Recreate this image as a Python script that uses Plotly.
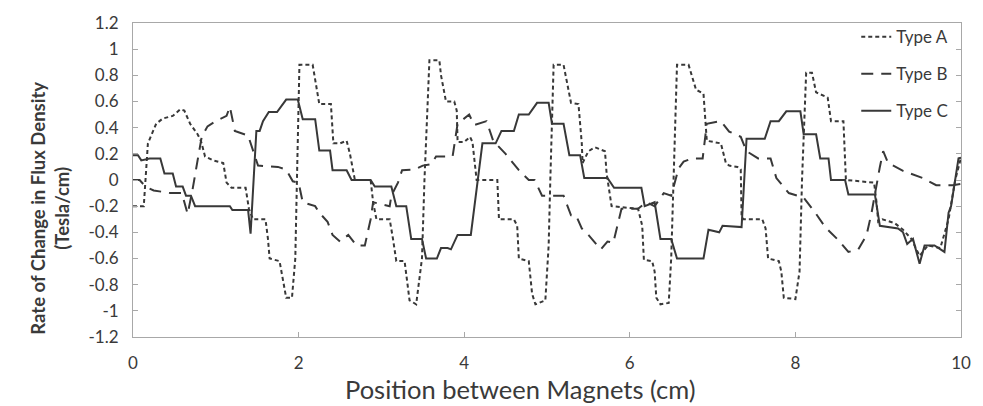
import plotly.graph_objects as go

# ---------------- data ----------------
xA = [0.0, 0.13, 0.18, 0.28, 0.36, 0.48, 0.57, 0.62, 0.69, 0.78, 0.82, 0.87, 0.97, 1.09, 1.13, 1.19, 1.36, 1.40,
      1.45, 1.60, 1.63, 1.65, 1.77, 1.81, 1.85, 1.92, 1.96, 1.98, 2.01, 2.17, 2.25, 2.39, 2.42, 2.50, 2.58, 2.62,
      2.64, 2.68, 2.87, 2.90, 2.94, 3.10, 3.14, 3.18, 3.28, 3.34, 3.42, 3.49, 3.52, 3.58, 3.70, 3.72, 3.78, 3.88,
      3.91, 3.92, 4.00, 4.07, 4.10, 4.15, 4.40, 4.42, 4.60, 4.64, 4.66, 4.78, 4.82, 4.86, 4.98, 5.02, 5.04, 5.08,
      5.20, 5.25, 5.29, 5.38, 5.42, 5.43, 5.50, 5.58, 5.70, 5.72, 5.78, 6.10, 6.15, 6.17, 6.27, 6.30, 6.32, 6.37,
      6.47, 6.50, 6.53, 6.57, 6.71, 6.75, 6.80, 6.89, 6.91, 6.93, 7.10, 7.16, 7.20, 7.30, 7.34, 7.35, 7.37, 7.60,
      7.64, 7.67, 7.80, 7.83, 7.86, 8.00, 8.05, 8.08, 8.13, 8.20, 8.25, 8.39, 8.43, 8.58, 8.61, 8.95, 8.98, 9.00,
      9.05, 9.20, 9.30, 9.40, 9.50, 9.60, 9.75, 9.85, 9.93, 10.0]
yA = [-0.20, -0.20, 0.28, 0.43, 0.47, 0.49, 0.54, 0.53, 0.43, 0.35, 0.30, 0.18, 0.15, 0.13, -0.02, -0.06, -0.06, -0.22,
      -0.30, -0.30, -0.45, -0.60, -0.62, -0.77, -0.90, -0.90, -0.60, 0.00, 0.88, 0.88, 0.58, 0.58, 0.28, 0.28, 0.30, 0.20,
      0.13, 0.00, 0.00, -0.17, -0.30, -0.30, -0.45, -0.62, -0.62, -0.92, -0.95, -0.60, 0.00, 0.915, 0.915, 0.80, 0.60, 0.60,
      0.53, 0.29, 0.29, 0.33, 0.29, 0.00, 0.00, -0.30, -0.30, -0.35, -0.60, -0.62, -0.87, -0.95, -0.92, -0.50, 0.00, 0.88,
      0.88, 0.73, 0.59, 0.58, 0.28, 0.13, 0.22, 0.25, 0.22, 0.05, -0.20, -0.22, -0.35, -0.61, -0.62, -0.70, -0.90, -0.95,
      -0.94, -0.60, 0.00, 0.88, 0.88, 0.80, 0.69, 0.66, 0.45, 0.30, 0.28, 0.13, 0.11, 0.10, 0.08, -0.27, -0.30, -0.30,
      -0.37, -0.60, -0.62, -0.70, -0.90, -0.91, -0.70, 0.00, 0.82, 0.82, 0.67, 0.63, 0.45, 0.45, 0.00, -0.02, -0.17, -0.32,
      -0.30, -0.33, -0.38, -0.45, -0.58, -0.50, -0.52, -0.30, 0.00, 0.17]

xB = [0.0, 0.08, 0.15, 0.25, 0.45, 0.59, 0.66, 0.72, 0.78, 0.83, 0.90, 1.00, 1.13, 1.17, 1.23, 1.39, 1.51, 1.75, 1.85,
      1.93, 2.00, 2.05, 2.20, 2.25, 2.35, 2.41, 2.50, 2.60, 2.70, 2.80, 2.87, 2.90, 3.10, 3.12, 3.20, 3.25, 3.40, 3.50,
      3.60, 3.66, 3.86, 3.92, 4.06, 4.12, 4.27, 4.35, 4.50, 4.66, 4.78, 4.85, 4.94, 5.20, 5.29, 5.35, 5.42, 5.50, 5.65,
      5.73, 5.80, 5.87, 5.90, 6.10, 6.20, 6.30, 6.41, 6.50, 6.55, 6.59, 6.65, 6.75, 6.88, 6.93, 7.10, 7.20, 7.34, 7.41,
      7.55, 7.70, 7.77, 7.92, 8.10, 8.24, 8.36, 8.52, 8.64, 8.76, 8.86, 8.92, 9.02, 9.06, 9.12, 9.30, 9.54, 9.70, 9.90,
      10.0]
yB = [0.00, 0.00, -0.05, -0.08, -0.10, -0.10, -0.26, -0.07, 0.15, 0.33, 0.41, 0.45, 0.49, 0.56, 0.375, 0.34, 0.11, 0.10,
      0.08, -0.01, -0.02, -0.17, -0.20, -0.25, -0.32, -0.42, -0.47, -0.42, -0.50, -0.50, -0.30, -0.17, -0.20, -0.12, -0.02,
      0.075, 0.08, 0.11, 0.12, 0.18, 0.18, 0.43, 0.50, 0.42, 0.45, 0.30, 0.20, 0.075, 0.00, 0.00, -0.12, -0.12, -0.27,
      -0.27, -0.37, -0.42, -0.53, -0.47, -0.48, -0.30, -0.22, -0.22, -0.17, -0.20, -0.10, -0.12, 0.00, 0.09, 0.14, 0.165,
      0.165, 0.43, 0.45, 0.37, 0.33, 0.22, 0.165, 0.165, 0.015, -0.10, -0.135, -0.25, -0.36, -0.46, -0.55, -0.53, -0.42,
      -0.25, 0.10, 0.22, 0.13, 0.07, 0.015, -0.04, -0.04, -0.03]

xC = [0.0, 0.06, 0.10, 0.20, 0.33, 0.38, 0.48, 0.52, 0.60, 0.64, 0.70, 0.75, 1.17, 1.20, 1.39, 1.42, 1.49, 1.53, 1.57,
      1.64, 1.74, 1.85, 1.99, 2.05, 2.20, 2.25, 2.38, 2.41, 2.58, 2.64, 2.87, 2.92, 3.12, 3.18, 3.30, 3.36, 3.49, 3.54,
      3.67, 3.72, 3.80, 3.84, 3.92, 4.08, 4.22, 4.38, 4.45, 4.60, 4.66, 4.78, 4.88, 5.02, 5.06, 5.20, 5.27, 5.40, 5.45,
      5.73, 5.81, 6.14, 6.18, 6.30, 6.37, 6.50, 6.57, 6.89, 6.95, 7.08, 7.12, 7.35, 7.41, 7.63, 7.70, 7.80, 7.89, 8.06,
      8.10, 8.25, 8.30, 8.40, 8.43, 8.60, 8.64, 8.96, 9.02, 9.15, 9.24, 9.30, 9.35, 9.42, 9.50, 9.56, 9.68, 9.80, 9.85,
      9.88, 9.97, 10.0]
yC = [0.19, 0.19, 0.15, 0.165, 0.165, 0.05, 0.05, -0.05, -0.05, -0.12, -0.12, -0.20, -0.20, -0.23, -0.23, -0.41, 0.375,
      0.375, 0.45, 0.52, 0.52, 0.615, 0.615, 0.465, 0.465, 0.225, 0.225, 0.075, 0.075, 0.00, 0.00, -0.05, -0.05, -0.20,
      -0.20, -0.45, -0.45, -0.60, -0.60, -0.52, -0.52, -0.53, -0.42, -0.42, 0.28, 0.28, 0.375, 0.375, 0.50, 0.50, 0.59,
      0.59, 0.43, 0.43, 0.19, 0.19, 0.015, 0.015, -0.06, -0.06, -0.20, -0.17, -0.45, -0.45, -0.60, -0.60, -0.38, -0.40,
      -0.35, -0.36, 0.315, 0.315, 0.45, 0.45, 0.525, 0.525, 0.35, 0.35, 0.165, 0.165, 0.00, 0.00, -0.11, -0.11, -0.35,
      -0.36, -0.37, -0.40, -0.49, -0.45, -0.64, -0.50, -0.50, -0.55, -0.25, -0.20, 0.165, 0.17]

series_names = ["Type A", "Type B", "Type C"]
x_ticks = [0, 2, 4, 6, 8, 10]
y_ticks = [1.2, 1, 0.8, 0.6, 0.4, 0.2, 0, -0.2, -0.4, -0.6, -0.8, -1, -1.2]
y_ticktext = ["1.2", "1", "0.8", "0.6", "0.4", "0.2", "0", "-0.2", "-0.4", "-0.6", "-0.8", "-1", "-1.2"]

# ---------------- figure ----------------
ink = "#383838"
txt = "#3a3a3a"
fig = go.Figure()
fig.add_trace(go.Scatter(x=xA, y=yA, mode="lines", name=series_names[0], legendgroup="a",
                         line=dict(color=ink, width=2, dash="4px,3px")))
fig.add_trace(go.Scatter(x=xB, y=yB, mode="lines", name=series_names[1], legendgroup="b",
                         line=dict(color=ink, width=2, dash="12px,8px")))
fig.add_trace(go.Scatter(x=xC, y=yC, mode="lines", name=series_names[2], legendgroup="c",
                         line=dict(color=ink, width=2)))

font_family = "Lato, 'Open Sans', sans-serif"
fig.update_layout(
    width=983, height=406,
    margin=dict(l=133, r=20, t=17, b=69),
    paper_bgcolor="white", plot_bgcolor="white",
    font=dict(family=font_family, color=txt),
    legend=dict(x=(858 - 133) / 830, y=(337 - 13) / 320, xanchor="left", yanchor="top",
                bgcolor="rgba(0,0,0,0)", font=dict(size=17, color=txt),
                traceorder="grouped", tracegroupgap=12),
    xaxis=dict(range=[0, 10], tickvals=x_ticks, ticktext=[str(v) for v in x_ticks],
               showgrid=False, zeroline=False, showline=True, linecolor="#a8a8a8", linewidth=1,
               mirror=True, ticks="inside", ticklen=5, tickcolor="#a8a8a8",
               tickfont=dict(size=17, color=txt), ticklabelstandoff=11),
    yaxis=dict(range=[-1.2, 1.2], tickvals=y_ticks, ticktext=y_ticktext,
               showgrid=False, zeroline=False, showline=True, linecolor="#a8a8a8", linewidth=1,
               mirror="ticks", ticks="inside", ticklen=5, tickcolor="#a8a8a8",
               tickfont=dict(size=17, color=txt), ticklabelstandoff=10),
)

fig.add_annotation(text="Position between Magnets (cm)", xref="paper", yref="paper",
                   x=(521 - 133) / 830, y=-(390 - 337) / 320, xanchor="center", yanchor="middle",
                   showarrow=False, font=dict(size=25.5, color=txt))
fig.add_annotation(text="<b>Rate of Change in Flux Density</b><br><b>(Tesla/cm)</b>", xref="paper", yref="paper",
                   x=-(133 - 50) / 830, y=(337 - 206) / 320, xanchor="center", yanchor="middle", textangle=-90,
                   showarrow=False, font=dict(size=18.5, color=txt))

fig.write_html("out.html")
